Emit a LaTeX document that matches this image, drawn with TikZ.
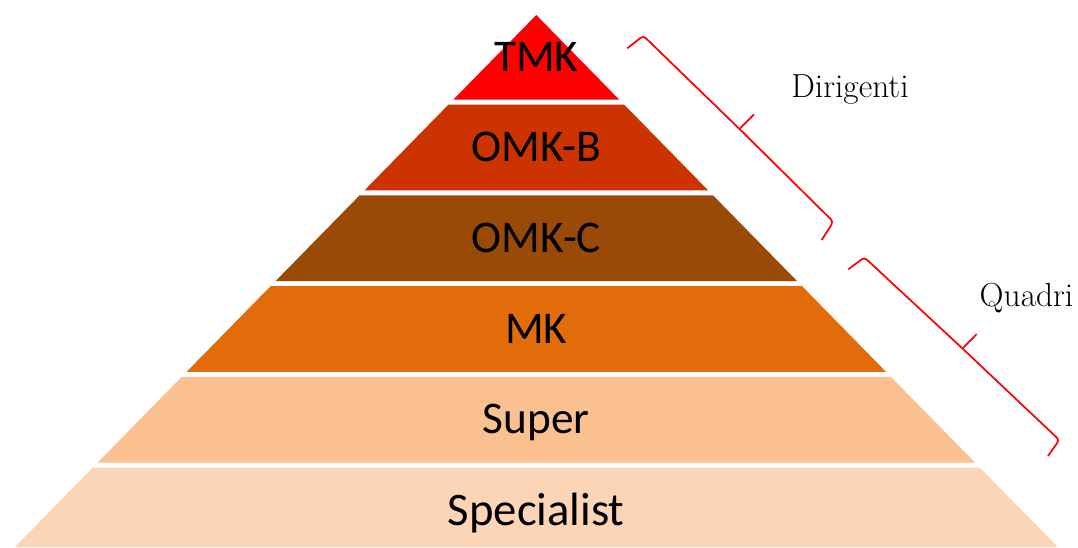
\documentclass[tikz,border=0pt]{standalone}
\usepackage{fontspec}
\newfontfamily\carlito{Carlito}

\definecolor{tmkred}{RGB}{255,0,0}
\definecolor{omkbcol}{RGB}{204,51,0}
\definecolor{omkccol}{RGB}{153,74,7}
\definecolor{mkcol}{RGB}{227,108,10}
\definecolor{supercol}{RGB}{250,192,144}
\definecolor{speccol}{RGB}{251,213,181}

\begin{document}
\begin{tikzpicture}[x = 0.75pt, y = -0.75pt,
  tier/.style = {font = \carlito\fontsize{34}{40}\selectfont, anchor = base},
  side/.style = {font = \fontsize{25}{30}\selectfont, anchor = base west},
  curly/.style = {draw = tmkred, line width = 1.3pt, rounded corners = 2.5pt}]
\useasboundingbox (0,0) rectangle (1078,547);
% pyramid, apex at (536.3,15)
\foreach \t/\b/\c in {15/99.5/tmkred, 104.5/190.3/omkbcol, 195.3/281.1/omkccol,
                     286.1/371.9/mkcol, 376.9/462.7/supercol, 467.7/547/speccol}
  \fill[\c] ({536.3-0.98*(\t-15)},\t) -- ({536.3+0.98*(\t-15)},\t)
         -- ({536.3+0.98*(\b-15)},\b) -- ({536.3-0.98*(\b-15)},\b) -- cycle;
\node[tier] (tmk) at (536.3,71) {TMK};
\node[tier] (omkb) at (536.3,161.5) {OMK-B};
\node[tier] (omkc) at (536.3,252.5) {OMK-C};
\node[tier] (mk) at (536.3,343) {MK};
\node[tier] (super) at (536.3,433) {Super};
\node[tier, font = \carlito\fontsize{35}{40}\selectfont] (spec) at (536.3,525) {Specialist};
% braces
\coordinate (d1) at (627.3,48.3);
\coordinate (d2) at (643.3,35.7);
\coordinate (dm) at (739.5,129);
\coordinate (ds) at (754,114.3);
\coordinate (d3) at (833.3,221.7);
\coordinate (d4) at (821.7,240);
\draw[curly] (d1) -- (d2) -- (dm) -- (d3) -- (d4);
\draw[curly] (dm) -- (ds);
\coordinate (q1) at (848.3,269.3);
\coordinate (q2) at (864.3,257.3);
\coordinate (qm) at (962.5,348.5);
\coordinate (qs) at (976.7,334);
\coordinate (q3) at (1059.3,440);
\coordinate (q4) at (1048,456);
\draw[curly] (q1) -- (q2) -- (qm) -- (q3) -- (q4);
\draw[curly] (qm) -- (qs);
\node[side] (dir) at (786.7,97.7) {Dirigenti};
\node[side] (quad) at (975,306.7) {Quadri};
\end{tikzpicture}
\end{document}
